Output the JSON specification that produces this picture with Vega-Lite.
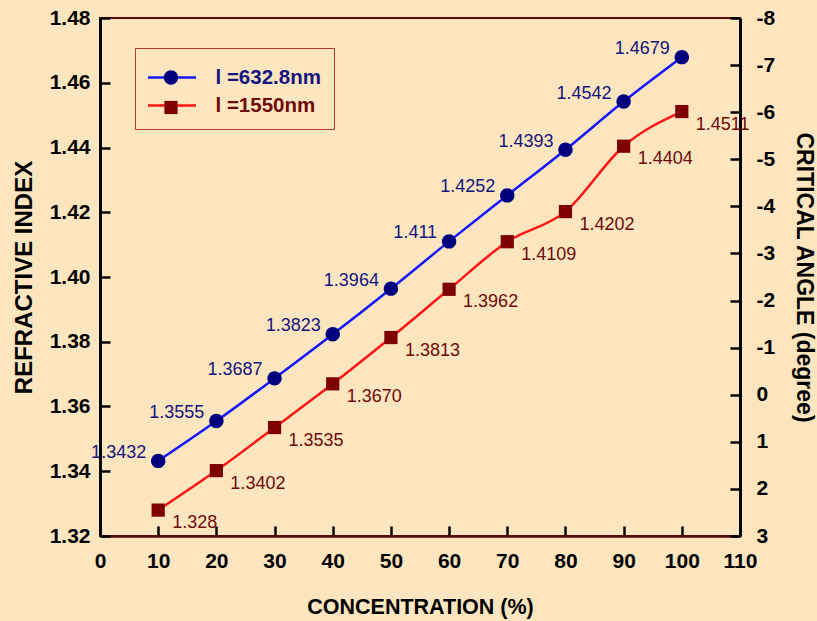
{
  "$schema": "https://vega.github.io/schema/vega-lite/v6.json",
  "width": 640,
  "height": 518,
  "autosize": {"type": "none"},
  "padding": {"left": 100, "top": 18, "right": 77, "bottom": 85},
  "background": "#fde6bf",
  "config": {
    "view": {"stroke": "#5a0a0a", "strokeWidth": 2},
    "font": "Liberation Sans"
  },
  "layer": [
    {
      "data": {
        "values": [
          {"conc": 10, "ri": 1.3432, "label": "1.3432", "series": "l =632.8nm"},
          {"conc": 20, "ri": 1.3555, "label": "1.3555", "series": "l =632.8nm"},
          {"conc": 30, "ri": 1.3687, "label": "1.3687", "series": "l =632.8nm"},
          {"conc": 40, "ri": 1.3823, "label": "1.3823", "series": "l =632.8nm"},
          {"conc": 50, "ri": 1.3964, "label": "1.3964", "series": "l =632.8nm"},
          {"conc": 60, "ri": 1.411, "label": "1.411", "series": "l =632.8nm"},
          {"conc": 70, "ri": 1.4252, "label": "1.4252", "series": "l =632.8nm"},
          {"conc": 80, "ri": 1.4393, "label": "1.4393", "series": "l =632.8nm"},
          {"conc": 90, "ri": 1.4542, "label": "1.4542", "series": "l =632.8nm"},
          {"conc": 100, "ri": 1.4679, "label": "1.4679", "series": "l =632.8nm"},
          {"conc": 10, "ri": 1.328, "label": "1.328", "series": "l =1550nm"},
          {"conc": 20, "ri": 1.3402, "label": "1.3402", "series": "l =1550nm"},
          {"conc": 30, "ri": 1.3535, "label": "1.3535", "series": "l =1550nm"},
          {"conc": 40, "ri": 1.367, "label": "1.3670", "series": "l =1550nm"},
          {"conc": 50, "ri": 1.3813, "label": "1.3813", "series": "l =1550nm"},
          {"conc": 60, "ri": 1.3962, "label": "1.3962", "series": "l =1550nm"},
          {"conc": 70, "ri": 1.4109, "label": "1.4109", "series": "l =1550nm"},
          {"conc": 80, "ri": 1.4202, "label": "1.4202", "series": "l =1550nm"},
          {"conc": 90, "ri": 1.4404, "label": "1.4404", "series": "l =1550nm"},
          {"conc": 100, "ri": 1.4511, "label": "1.4511", "series": "l =1550nm"}
        ]
      },
      "encoding": {
        "x": {
          "field": "conc",
          "type": "quantitative",
          "scale": {"domain": [0, 110], "nice": false},
          "axis": {
            "values": [0, 10, 20, 30, 40, 50, 60, 70, 80, 90, 100, 110],
            "grid": false,
            "labelFlush": false,
            "tickSize": -10,
            "tickWidth": 2.5,
            "tickColor": "#000000",
            "domainColor": "#5a0a0a",
            "domainWidth": 2.5,
            "labelFont": "Liberation Sans",
            "labelFontWeight": "bold",
            "labelFontSize": 21,
            "labelColor": "#000000",
            "labelPadding": 24,
            "title": "CONCENTRATION (%)",
            "titleFont": "Liberation Sans",
            "titleFontWeight": "bold",
            "titleFontSize": 21.5,
            "titleColor": "#000000",
            "titlePadding": 25
          }
        },
        "y": {
          "field": "ri",
          "type": "quantitative",
          "scale": {"domain": [1.32, 1.48], "nice": false, "zero": false},
          "axis": {
            "values": [1.32, 1.34, 1.36, 1.38, 1.4, 1.42, 1.44, 1.46, 1.48],
            "format": ".2f",
            "grid": false,
            "tickSize": -10,
            "tickWidth": 2.5,
            "tickColor": "#000000",
            "domainColor": "#000000",
            "domainWidth": 3,
            "labelFont": "Liberation Sans",
            "labelFontWeight": "bold",
            "labelFontSize": 21,
            "labelColor": "#000000",
            "labelPadding": 20,
            "title": "REFRACTIVE  INDEX",
            "titleFont": "Liberation Sans",
            "titleFontWeight": "bold",
            "titleFontSize": 24,
            "titleColor": "#000000",
            "titlePadding": 13
          }
        }
      },
      "layer": [
        {
          "mark": {"type": "line", "interpolate": "monotone", "strokeWidth": 2.5},
          "encoding": {
            "color": {
              "field": "series",
              "type": "nominal",
              "scale": {"domain": ["l =632.8nm", "l =1550nm"], "range": ["#1414ff", "#ff1414"]},
              "legend": {
                "orient": "none",
                "legendX": 35,
                "legendY": 30,
                "title": null,
                "padding": 13,
                "rowPadding": 1,
                "symbolType": "M-1.6,0H1.6",
                "symbolSize": 900,
                "symbolStrokeWidth": 2.5,
                "symbolOffset": 7.5,
                "labelFont": "Liberation Sans",
                "labelFontWeight": "bold",
                "labelFontSize": 20.5,
                "labelOffset": 27,
                "strokeColor": "#b5382c",
                "encode": {
                  "labels": {
                    "update": {
                      "fill": {"signal": "datum.value == 'l =632.8nm' ? '#141480' : '#6e0a0a'"},
                      "text": {"signal": "datum.label + ' '"}
                    }
                  }
                }
              }
            }
          }
        },
        {
          "mark": {"type": "point", "filled": true, "opacity": 1, "size": 900},
          "encoding": {
            "fill": {
              "field": "series",
              "type": "nominal",
              "scale": {"domain": ["l =632.8nm", "l =1550nm"], "range": ["#00007f", "#7f0000"]},
              "legend": null
            },
            "shape": {
              "field": "series",
              "type": "nominal",
              "scale": {
                "domain": ["l =632.8nm", "l =1550nm"],
                "range": ["M-0.48,0A0.48,0.48,0,1,1,0.48,0A0.48,0.48,0,1,1,-0.48,0Z", "M-0.44,-0.44H0.44V0.44H-0.44Z"]
              },
              "legend": {
                "orient": "top-left",
                "offset": 30,
                "title": null,
                "padding": 13,
                "rowPadding": 1,
                "symbolSize": 900,
                "symbolStrokeWidth": 2.5,
                "symbolStrokeColor": "transparent",
                "symbolOffset": 11.5,
                "labelExpr": "''",
                "labelFontSize": 20,
                "labelOffset": 27,
                "labelOpacity": 0
              }
            }
          }
        },
        {
          "transform": [{"filter": "datum.series == 'l =632.8nm'"}],
          "mark": {"type": "text", "align": "right", "baseline": "middle", "dx": -12, "dy": -8, "fontSize": 18, "font": "Liberation Sans", "color": "#141480"},
          "encoding": {"text": {"field": "label", "type": "nominal"}}
        },
        {
          "transform": [{"filter": "datum.series == 'l =1550nm'"}],
          "mark": {"type": "text", "align": "left", "baseline": "middle", "dx": 14, "dy": 13, "fontSize": 18, "font": "Liberation Sans", "color": "#6e0a0a"},
          "encoding": {"text": {"field": "label", "type": "nominal"}}
        }
      ]
    },
    {
      "data": {"values": [{"angle": -8}, {"angle": 3}]},
      "mark": {"type": "rule", "opacity": 0},
      "encoding": {
        "y": {
          "field": "angle",
          "type": "quantitative",
          "scale": {"domain": [-8, 3], "reverse": true, "nice": false, "zero": false},
          "axis": {
            "orient": "right",
            "values": [-8, -7, -6, -5, -4, -3, -2, -1, 0, 1, 2, 3],
            "labelExpr": "datum.value + ''",
            "grid": false,
            "tickSize": -10,
            "tickWidth": 2.5,
            "tickColor": "#000000",
            "domainColor": "#000000",
            "domainWidth": 3,
            "labelFont": "Liberation Sans",
            "labelFontWeight": "bold",
            "labelFontSize": 21,
            "labelColor": "#000000",
            "labelPadding": 26,
            "title": "CRITICAL ANGLE (degree)",
            "titleFont": "Liberation Sans",
            "titleFontWeight": "bold",
            "titleFontSize": 23,
            "titleColor": "#000000",
            "titlePadding": 17
          }
        }
      }
    }
  ],
  "resolve": {"scale": {"y": "independent"}}
}
